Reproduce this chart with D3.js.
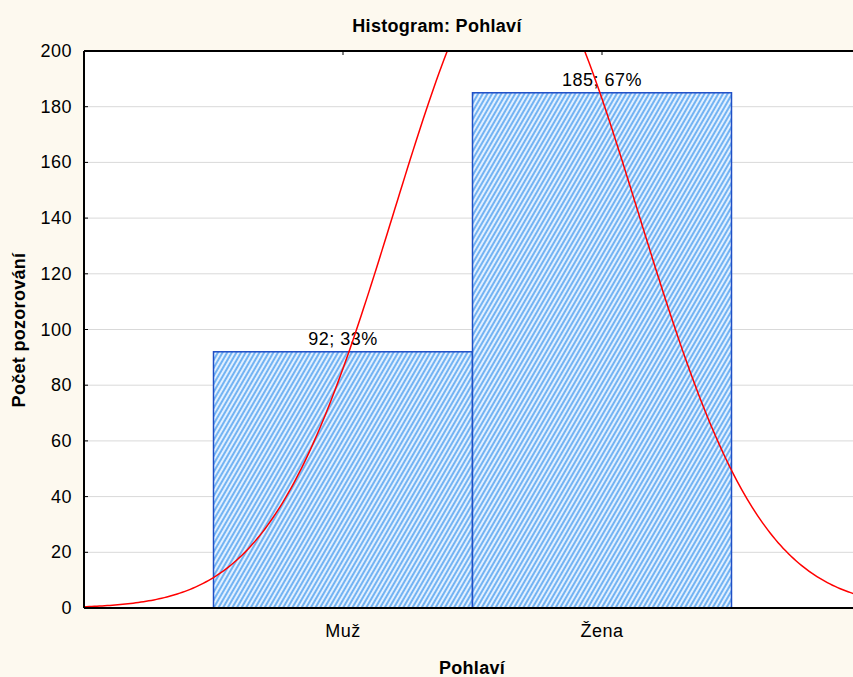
<!DOCTYPE html>
<html><head><meta charset="utf-8">
<script src="https://cdn.jsdelivr.net/npm/d3@7"></script>
<style>
html,body{margin:0;padding:0;background:#fdf9ef;}
svg{display:block;font-family:"Liberation Sans",Arial,sans-serif;}
</style></head>
<body>
<svg id="chart" width="853" height="677"></svg>
<script>
const categories = ["Muž", "Žena"];
const counts = [92, 185];
const percents = ["33%", "67%"];
const yTicks = [0, 20, 40, 60, 80, 100, 120, 140, 160, 180, 200];
const title = "Histogram: Pohlaví";
const xTitle = "Pohlaví";
const yTitle = "Počet pozorování";

const W = 853, H = 677;
const m = {left: 84, top: 51, right: 861, bottom: 608};
const svg = d3.select("#chart");

const x = d3.scaleLinear().domain([0, 3]).range([m.left, m.right]);
const y = d3.scaleLinear().domain([0, 200]).range([m.bottom, m.top]);

const defs = svg.append("defs");
const pat = defs.append("pattern").attr("id","hatch").attr("patternUnits","userSpaceOnUse")
  .attr("width",4).attr("height",4).attr("patternTransform","rotate(30)");
pat.append("rect").attr("width",4).attr("height",4).attr("fill","#e2f0ff");
pat.append("rect").attr("width",2).attr("height",4).attr("fill","#72b3f3");
defs.append("clipPath").attr("id","clip").append("rect")
  .attr("x",m.left).attr("y",m.top).attr("width",m.right-m.left).attr("height",m.bottom-m.top);

// plot background
svg.append("rect").attr("x",m.left).attr("y",m.top).attr("width",m.right-m.left).attr("height",m.bottom-m.top).attr("fill","#ffffff");

// gridlines
svg.append("g").selectAll("line").data(yTicks.slice(1,-1)).join("line")
  .attr("x1",m.left).attr("x2",m.right).attr("y1",d=>y(d)).attr("y2",d=>y(d))
  .attr("stroke","#d9d9d9").attr("stroke-width",1);

// bars
const idx = categories.map((c,i)=>i+1);
svg.append("g").selectAll("rect").data(counts).join("rect")
  .attr("x",(d,i)=>x(idx[i]-0.5)).attr("width",(d,i)=>x(idx[i]+0.5)-x(idx[i]-0.5))
  .attr("y",d=>y(d)).attr("height",d=>y(0)-y(d))
  .attr("fill","url(#hatch)").attr("stroke","#1f4fc6").attr("stroke-width",1.5);

// bar labels
svg.append("g").selectAll("text").data(counts).join("text")
  .attr("x",(d,i)=>x(idx[i])).attr("y",d=>y(d)-7)
  .attr("text-anchor","middle").attr("font-size",18).attr("letter-spacing",0.5).attr("fill","#000")
  .text((d,i)=>d+"; "+percents[i]);

// fitted normal curve from the data
const N = d3.sum(counts);
const mean = d3.sum(counts.map((c,i)=>c*idx[i]))/N;
const variance = d3.sum(counts.map((c,i)=>c*(idx[i]-mean)**2))/(N-1);
const sd = Math.sqrt(variance);
const xs = d3.range(0, 3.0001, 0.01);
const curve = xs.map(v=>[v, N*Math.exp(-0.5*((v-mean)/sd)**2)/(sd*Math.sqrt(2*Math.PI))]);
svg.append("path").datum(curve).attr("clip-path","url(#clip)")
  .attr("d", d3.line().x(d=>x(d[0])).y(d=>y(d[1])))
  .attr("fill","none").attr("stroke","#ff0000").attr("stroke-width",1.5);

// axes frame
svg.append("line").attr("x1",m.left).attr("x2",m.left).attr("y1",m.top).attr("y2",m.bottom).attr("stroke","#000").attr("stroke-width",2);
svg.append("line").attr("x1",m.left).attr("x2",W).attr("y1",m.bottom).attr("y2",m.bottom).attr("stroke","#000").attr("stroke-width",2);
svg.append("line").attr("x1",m.left).attr("x2",W).attr("y1",m.top).attr("y2",m.top).attr("stroke","#000").attr("stroke-width",2);

// y ticks
const yg = svg.append("g");
yg.selectAll("line").data(yTicks).join("line")
  .attr("x1",m.left).attr("x2",m.left+4).attr("y1",d=>y(d)).attr("y2",d=>y(d)).attr("stroke","#000");
yg.selectAll("text").data(yTicks).join("text")
  .attr("x",m.left-12).attr("y",d=>y(d)+6).attr("text-anchor","end")
  .attr("font-size",18).attr("letter-spacing",0.5).attr("fill","#000").text(d=>d);

// top ticks at categories
svg.append("g").selectAll("line").data(idx).join("line")
  .attr("x1",d=>x(d)).attr("x2",d=>x(d)).attr("y1",m.top).attr("y2",m.top+4).attr("stroke","#000");

// x category labels
svg.append("g").selectAll("text").data(categories).join("text")
  .attr("x",(d,i)=>x(idx[i])).attr("y",637).attr("text-anchor","middle")
  .attr("font-size",18).attr("letter-spacing",0.5).attr("fill","#000").text(d=>d);

// titles
svg.append("text").attr("x",437).attr("y",32).attr("text-anchor","middle")
  .attr("font-size",18).attr("letter-spacing",0.3).attr("font-weight","bold").attr("fill","#000").text(title);
svg.append("text").attr("x",472).attr("y",674).attr("text-anchor","middle")
  .attr("font-size",18).attr("letter-spacing",0.3).attr("font-weight","bold").attr("fill","#000").text(xTitle);
svg.append("text").attr("transform","translate(25,330) rotate(-90)").attr("text-anchor","middle")
  .attr("font-size",18).attr("letter-spacing",0.3).attr("font-weight","bold").attr("fill","#000").text(yTitle);
</script>
</body></html>
